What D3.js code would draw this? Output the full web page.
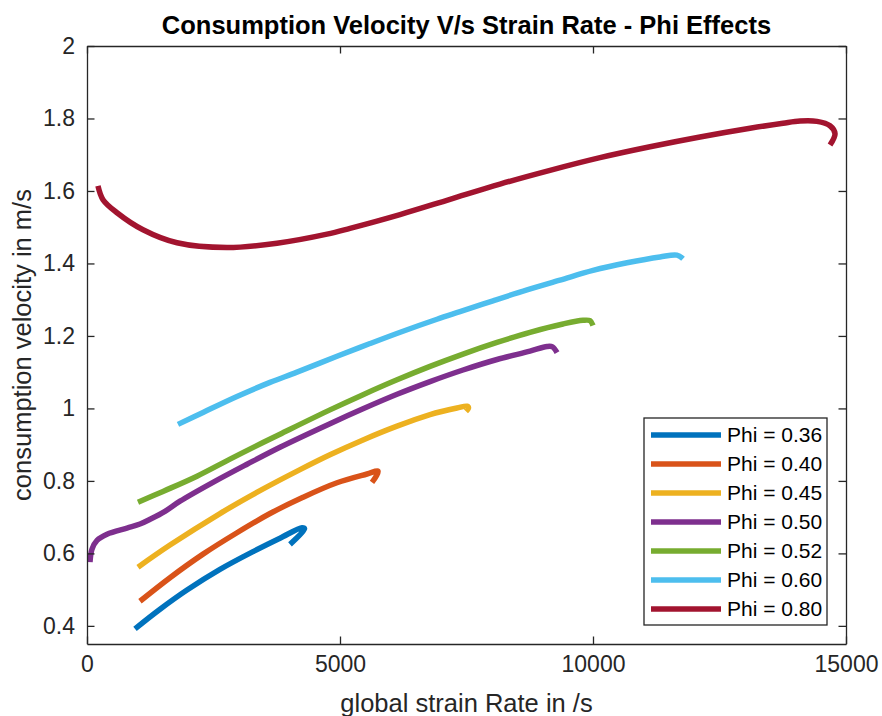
<!DOCTYPE html>
<html>
<head>
<meta charset="utf-8">
<script src="https://cdn.jsdelivr.net/npm/d3@7"></script>
<style>
  html, body { margin: 0; padding: 0; background: #fff; }
  svg { display: block; font-family: "Liberation Sans", Arial, Helvetica, sans-serif; }
</style>
</head>
<body>
<svg id="chart" width="882" height="716"></svg>
<script>
// Equivalence ratios shown in the legend
const phiLabels = ["Phi = 0.36", "Phi = 0.40", "Phi = 0.45", "Phi = 0.50", "Phi = 0.52", "Phi = 0.60", "Phi = 0.80"];
const seriesColors = ["#0072BD", "#D95319", "#EDB120", "#7E2F8E", "#77AC30", "#4DBEEE", "#A2142F"];

// Global strain rate (1/s) for each curve
const strain036 = [949, 1443, 1976, 2628, 3281, 3814, 4249, 4300, 4012];
const strain040 = [1047, 1640, 2293, 2964, 3617, 4269, 4941, 5534, 5751, 5720, 5632];
const strain045 = [1008, 1640, 2628, 3419, 4210, 4802, 5455, 6127, 6779, 7312, 7510, 7540, 7490];
const strain050 = [59, 99, 198, 395, 790, 1047, 1245, 1541, 1838, 2490, 3162, 3814, 4802, 5455, 6127, 6779, 7431, 8103, 8755, 9091, 9200, 9289];
const strain052 = [1008, 1502, 2174, 2826, 3478, 3814, 4802, 5455, 6127, 6779, 7431, 8103, 8755, 9407, 9802, 9941, 10000];
const strain060 = [1798, 2293, 2964, 3617, 4150, 4941, 5593, 6245, 6917, 7372, 8024, 8696, 9348, 10000, 10672, 11324, 11660, 11779];
const strain080 = [217, 316, 593, 1107, 1779, 2767, 3755, 4743, 5198, 6186, 7174, 8162, 9150, 10138, 11127, 12115, 13103, 13755, 14091, 14427, 14684, 14783, 14684];

// Consumption velocity (m/s) for each curve
const vel036 = [0.392, 0.446, 0.499, 0.556, 0.605, 0.642, 0.671, 0.668, 0.625];
const vel040 = [0.468, 0.533, 0.598, 0.657, 0.710, 0.755, 0.795, 0.819, 0.827, 0.814, 0.796];
const vel045 = [0.562, 0.623, 0.710, 0.773, 0.831, 0.872, 0.913, 0.951, 0.983, 1.001, 1.006, 1.002, 0.992];
const vel050 = [0.576, 0.612, 0.636, 0.653, 0.670, 0.681, 0.694, 0.716, 0.744, 0.796, 0.846, 0.893, 0.958, 0.999, 1.039, 1.074, 1.106, 1.135, 1.158, 1.171, 1.170, 1.154];
const vel052 = [0.741, 0.771, 0.813, 0.860, 0.906, 0.929, 0.996, 1.038, 1.079, 1.116, 1.150, 1.182, 1.210, 1.233, 1.243, 1.242, 1.229];
const vel060 = [0.956, 0.989, 1.033, 1.072, 1.100, 1.144, 1.179, 1.213, 1.246, 1.267, 1.297, 1.327, 1.354, 1.381, 1.402, 1.418, 1.423, 1.413];
const vel080 = [1.614, 1.576, 1.540, 1.493, 1.457, 1.444, 1.456, 1.481, 1.497, 1.535, 1.577, 1.619, 1.657, 1.692, 1.722, 1.749, 1.773, 1.787, 1.793, 1.792, 1.780, 1.758, 1.727];

// Axis ticks
const xTicks = [0, 5000, 10000, 15000];
const yTicks = [0.4, 0.6, 0.8, 1.0, 1.2, 1.4, 1.6, 1.8, 2.0];
const xDomain = [0, 15000];
const yDomain = [0.35, 2.0];

const strains = [strain036, strain040, strain045, strain050, strain052, strain060, strain080];
const vels = [vel036, vel040, vel045, vel050, vel052, vel060, vel080];
const series = phiLabels.map((label, i) => ({
  label,
  color: seriesColors[i],
  points: strains[i].map((s, j) => [s, vels[i][j]])
}));

const svg = d3.select("#chart");
const plot = { left: 87, right: 846, top: 46, bottom: 644 };
const axisColor = "#262626";

const x = d3.scaleLinear().domain(xDomain).range([plot.left, plot.right]);
const y = d3.scaleLinear().domain(yDomain).range([plot.bottom, plot.top]);

// Data curves (clipped to the axes box)
svg.append("clipPath").attr("id", "plot-clip")
  .append("rect")
  .attr("x", plot.left).attr("y", plot.top)
  .attr("width", plot.right - plot.left).attr("height", plot.bottom - plot.top);

const line = d3.line()
  .x(d => x(d[0]))
  .y(d => y(d[1]))
  .curve(d3.curveCatmullRom.alpha(0.5));

svg.append("g").attr("clip-path", "url(#plot-clip)")
  .selectAll("path")
  .data(series)
  .join("path")
  .attr("d", d => line(d.points))
  .attr("fill", "none")
  .attr("stroke", d => d.color)
  .attr("stroke-width", 5.5)
  .attr("stroke-linejoin", "round")
  .attr("stroke-linecap", "butt");

// Axes with inward ticks on all four sides
const tickLen = 7.5;
const fontTick = 23;

const bottomAxis = d3.axisBottom(x).tickValues(xTicks).tickSizeInner(-tickLen).tickSizeOuter(0)
  .tickPadding(12).tickFormat(d3.format("d"));
const topAxis = d3.axisTop(x).tickValues(xTicks).tickSizeInner(-tickLen).tickSizeOuter(0).tickFormat("");
const leftAxis = d3.axisLeft(y).tickValues(yTicks).tickSizeInner(-tickLen).tickSizeOuter(0)
  .tickPadding(12).tickFormat(d => d3.format("~g")(d));
const rightAxis = d3.axisRight(y).tickValues(yTicks).tickSizeInner(-tickLen).tickSizeOuter(0).tickFormat("");

function styleAxis(g) {
  g.select(".domain").attr("stroke", axisColor).attr("stroke-width", 1.3);
  g.selectAll(".tick line").attr("stroke", axisColor).attr("stroke-width", 1.3);
  g.selectAll(".tick text")
    .attr("fill", axisColor)
    .style("font-family", "'Liberation Sans', Arial, Helvetica, sans-serif")
    .style("font-size", fontTick + "px");
}

svg.append("g").attr("transform", `translate(0,${plot.bottom})`).call(bottomAxis).call(styleAxis);
svg.append("g").attr("transform", `translate(0,${plot.top})`).call(topAxis).call(styleAxis);
svg.append("g").attr("transform", `translate(${plot.left},0)`).call(leftAxis).call(styleAxis);
svg.append("g").attr("transform", `translate(${plot.right},0)`).call(rightAxis).call(styleAxis);

// Title and axis labels
svg.append("text")
  .attr("x", (plot.left + plot.right) / 2).attr("y", 34)
  .attr("text-anchor", "middle")
  .attr("font-weight", "bold")
  .attr("font-size", 25.5)
  .attr("fill", "#000")
  .text("Consumption Velocity V/s Strain Rate - Phi Effects");

svg.append("text")
  .attr("x", (plot.left + plot.right) / 2).attr("y", 712)
  .attr("text-anchor", "middle")
  .attr("font-size", 25.5)
  .attr("fill", axisColor)
  .text("global strain Rate in /s");

svg.append("text")
  .attr("transform", `translate(31,${(plot.top + plot.bottom) / 2}) rotate(-90)`)
  .attr("text-anchor", "middle")
  .attr("font-size", 25.5)
  .attr("fill", axisColor)
  .text("consumption velocity in m/s");

// Legend
const legend = { x: 644, y: 418, w: 183, h: 207, rowStart: 435, rowGap: 29 };
const lg = svg.append("g");
lg.append("rect")
  .attr("x", legend.x).attr("y", legend.y)
  .attr("width", legend.w).attr("height", legend.h)
  .attr("fill", "#fff").attr("stroke", axisColor).attr("stroke-width", 1.3);

const rows = lg.selectAll("g.row").data(series).join("g").attr("class", "row")
  .attr("transform", (d, i) => `translate(0,${legend.rowStart + i * legend.rowGap})`);
rows.append("line")
  .attr("x1", 651).attr("x2", 721)
  .attr("stroke", d => d.color).attr("stroke-width", 5.5);
rows.append("text")
  .attr("x", 727).attr("dy", "0.35em")
  .attr("font-size", 21)
  .attr("fill", "#000")
  .text(d => d.label);
</script>
</body>
</html>
